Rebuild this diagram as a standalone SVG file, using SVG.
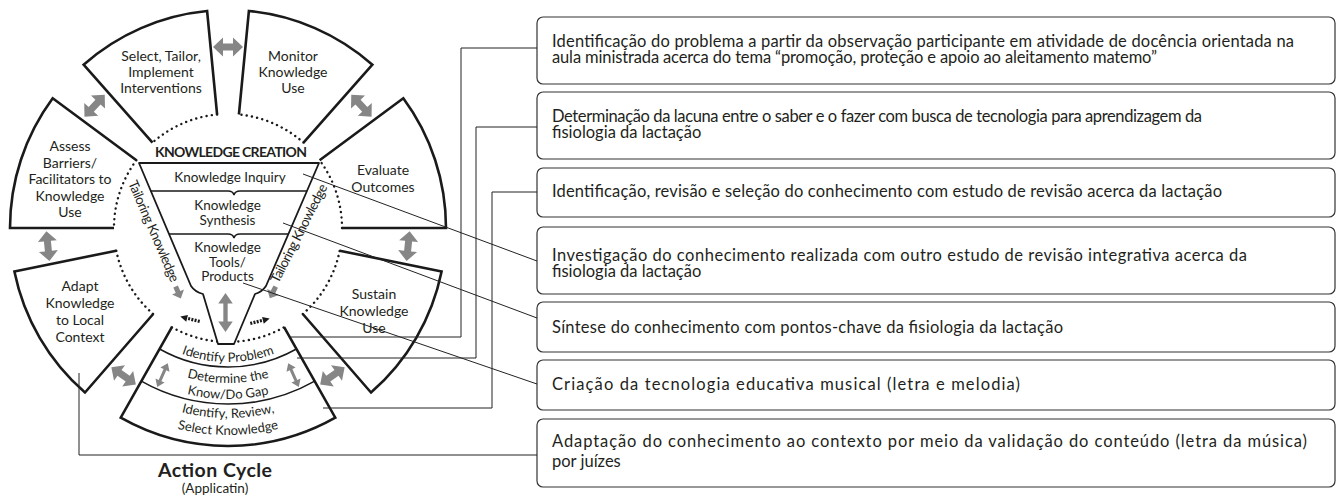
<svg xmlns="http://www.w3.org/2000/svg" width="1340" height="503" viewBox="0 0 1340 503">
<style>
.lbl{font-family:Lato,"Noto Sans","Liberation Sans",sans-serif;font-size:14px;fill:#231f20;text-anchor:middle}
.fl{font-family:Lato,"Noto Sans","Liberation Sans",sans-serif;font-size:13.5px;fill:#231f20;text-anchor:middle}
.bnd{font-family:Lato,"Noto Sans","Liberation Sans",sans-serif;font-size:13px;fill:#231f20;text-anchor:middle}
.bt{font-family:Lato,"Noto Sans","Liberation Sans",sans-serif;font-size:16.5px;fill:#231f20}
.box{fill:#fff;stroke:#333;stroke-width:1.2}
.sec{fill:none;stroke:#1a1a1a;stroke-width:2.6;stroke-linejoin:miter}
.dot{fill:none;stroke:#1a1a1a;stroke-width:2.4;stroke-dasharray:0.1 5.2;stroke-linecap:round}
.div{fill:none;stroke:#1a1a1a;stroke-width:1.5}
.conn{fill:none;stroke:#222;stroke-width:1}
.ga{fill:#868686}
</style>
<defs>
<path id="dbl" d="M-15,0 L-5,-9.5 L-5,-3.5 L5,-3.5 L5,-9.5 L15,0 L5,9.5 L5,3.5 L-5,3.5 L-5,9.5 Z"/>
<path id="sdbl" d="M0,-13 L5,-6 L1.5,-6 L1.5,6 L5,6 L0,13 L-5,6 L-1.5,6 L-1.5,-6 L-5,-6 Z"/>
<path id="sgl" d="M-6,-2.5 L0,-2.5 L0,-6.5 L7,0 L0,6.5 L0,2.5 L-6,2.5 Z"/>
<g id="dash">
<path d="M10,0 L3,-3.5 L3,3.5 Z" fill="#1a1a1a"/>
<line x1="-10" y1="0" x2="3" y2="0" stroke="#1a1a1a" stroke-width="3.2" stroke-dasharray="2 1.3"/>
</g>
<path id="tp1" d="M111.96,295 A134,134 0 0 0 344.04,295"/>
<path id="tp2" d="M93.77,305.5 A155,155 0 0 0 362.23,305.5"/>
<path id="tp3" d="M79.91,313.5 A171,171 0 0 0 376.09,313.5"/>
<path id="tp4" d="M63.46,323 A190,190 0 0 0 392.54,323"/>
<path id="tp5" d="M48.74,331.5 A207,207 0 0 0 407.26,331.5"/>
</defs>
<rect width="1340" height="503" fill="#fff"/>

<g id="select">
<path class="sec" d="M152.5,142.6 L83.6,64.7 A218,218 0 0 1 207.1,11 L217.1,114.5"/>
<path class="dot" d="M217.1,114.5 A114,114 0 0 0 152.5,142.6"/>
<text class="lbl" x="161" y="61">Select, Tailor,</text>
<text class="lbl" x="161" y="77">Implement</text>
<text class="lbl" x="161" y="93">Interventions</text>
</g>
<g id="monitor">
<path class="sec" d="M238.9,114.5 L248.9,11 A218,218 0 0 1 372.4,64.7 L303.5,142.6"/>
<path class="dot" d="M303.5,142.6 A114,114 0 0 0 238.9,114.5"/>
<text class="lbl" x="293" y="61">Monitor</text>
<text class="lbl" x="293" y="77">Knowledge</text>
<text class="lbl" x="293" y="93">Use</text>
</g>
<g id="evaluate">
<path class="sec" d="M319.6,160.2 L403.3,98.3 A218,218 0 0 1 446,228 L342,228"/>
<path class="dot" d="M342,228 A114,114 0 0 0 319.6,160.2"/>
<text class="lbl" x="383" y="174.5">Evaluate</text>
<text class="lbl" x="383" y="191.5">Outcomes</text>
</g>
<g id="sustain">
<path class="sec" d="M339.7,250.7 L441.6,271.5 A218,218 0 0 1 371,392.5 L302.8,314"/>
<path class="dot" d="M302.8,314 A114,114 0 0 0 339.7,250.7"/>
<text class="lbl" x="374" y="299">Sustain</text>
<text class="lbl" x="374" y="316">Knowledge</text>
<text class="lbl" x="374" y="333">Use</text>
</g>
<g id="bottom">
<path class="sec" d="M284.1,327.2 L335.3,417.7 A218,218 0 0 1 120.7,417.7 L171.9,327.2"/>
<path class="dot" d="M171.9,327.2 A114,114 0 0 0 284.1,327.2"/>
<path class="div" d="M159.6,349 A139,139 0 0 0 296.4,349"/>
<path class="div" d="M141.3,381.2 A176,176 0 0 0 314.7,381.2"/>
<text class="bnd"><textPath href="#tp1" startOffset="50%">Identify Problem</textPath></text>
<text class="bnd"><textPath href="#tp2" startOffset="50%">Determine the</textPath></text>
<text class="bnd"><textPath href="#tp3" startOffset="50%">Know/Do Gap</textPath></text>
<text class="bnd"><textPath href="#tp4" startOffset="50%">Identify, Review,</textPath></text>
<text class="bnd"><textPath href="#tp5" startOffset="50%">Select Knowledge</textPath></text>
<use href="#sdbl" class="ga" transform="translate(162.5,375.1) rotate(204)"/>
<use href="#sdbl" class="ga" transform="translate(293.5,375.1) rotate(156)"/>
</g>
<g id="adapt">
<path class="sec" d="M153.2,314 L85,392.5 A218,218 0 0 1 14.4,271.5 L116.3,250.7"/>
<path class="dot" d="M116.3,250.7 A114,114 0 0 0 153.2,314"/>
<text class="lbl" x="80" y="291">Adapt</text>
<text class="lbl" x="80" y="308">Knowledge</text>
<text class="lbl" x="80" y="325">to Local</text>
<text class="lbl" x="80" y="341.5">Context</text>
</g>
<g id="assess">
<path class="sec" d="M114,228 L10,228 A218,218 0 0 1 52.7,98.3 L136.4,160.2"/>
<path class="dot" d="M136.4,160.2 A114,114 0 0 0 114,228"/>
<text class="lbl" x="70" y="151">Assess</text>
<text class="lbl" x="70" y="167.5">Barriers/</text>
<text class="lbl" x="70" y="184">Facilitators to</text>
<text class="lbl" x="70" y="200.5">Knowledge</text>
<text class="lbl" x="70" y="217">Use</text>
</g>

<g id="knowledge-creation">
<text x="231" y="157" text-anchor="middle" font-family="Lato,'Noto Sans','Liberation Sans',sans-serif" font-weight="bold" font-size="14" fill="#231f20" textLength="152">KNOWLEDGE CREATION</text>
<path d="M139,163 L319,163 L266,286 Q262,292 255,294 L234,344 L218,344 L203,294 Q195,292 191,286 Z" fill="#fff" stroke="#1a1a1a" stroke-width="1.8" stroke-linejoin="round"/>
<path class="div" d="M150.8,191 L228,191 Q233,191 234,195 Q235,191 240,191 L306.9,191"/>
<path class="div" d="M169,234 L228,234 Q233,234 234,238 Q235,234 240,234 L288.4,234"/>
<text class="fl" x="230" y="182">Knowledge Inquiry</text>
<text class="fl" x="227.5" y="210">Knowledge</text>
<text class="fl" x="227.5" y="225">Synthesis</text>
<text class="fl" x="227.5" y="252">Knowledge</text>
<text class="fl" x="227.5" y="266.5">Tools/</text>
<text class="fl" x="227.5" y="281">Products</text>
<use href="#sdbl" class="ga" transform="translate(225.5,312.5) scale(1.45,1.5)"/>
<text class="fl" textLength="109" transform="translate(149.5,233) rotate(66.7)">Tailoring Knowledge</text>
<text class="fl" textLength="109" transform="translate(303,235.5) rotate(-63)">Tailoring Knowledge</text>
<use href="#sgl" class="ga" transform="translate(178,292) rotate(66.7)"/>
<use href="#sgl" class="ga" transform="translate(273,292) rotate(117)"/>
<use href="#dash" transform="translate(190,319) rotate(194)"/>
<use href="#dash" transform="translate(260,321) rotate(-14)"/>
</g>

<g id="cycle-arrows">
<use href="#dbl" class="ga" transform="translate(228,47) rotate(0)"/>
<use href="#dbl" class="ga" transform="translate(361.4,105.7) rotate(47.5)"/>
<use href="#dbl" class="ga" transform="translate(408.1,246.1) rotate(95.75)"/>
<use href="#dbl" class="ga" transform="translate(332.4,375.8) rotate(144.75)"/>
<use href="#dbl" class="ga" transform="translate(123.6,375.8) rotate(215.25)"/>
<use href="#dbl" class="ga" transform="translate(47.9,246.1) rotate(264.25)"/>
<use href="#dbl" class="ga" transform="translate(94.6,105.7) rotate(312.5)"/>
</g>

<g id="action-cycle-label">
<text x="215" y="477" text-anchor="middle" font-family="Lato,'Noto Sans','Liberation Sans',sans-serif" font-weight="bold" font-size="19.5" fill="#231f20" textLength="114">Action Cycle</text>
<text x="215" y="493" text-anchor="middle" font-family="Lato,'Noto Sans','Liberation Sans',sans-serif" font-size="13.5" fill="#231f20">(Applicatin)</text>
</g>

<g id="box1"><rect class="box" x="537" y="17" width="798" height="67" rx="6"/>
<text class="bt" x="552" y="47" textLength="742">Identificação do problema a partir da observação participante em atividade de docência orientada na</text>
<text class="bt" x="552" y="63" textLength="605">aula ministrada acerca do tema “promoção, proteção e apoio ao aleitamento matemo”</text></g>
<g id="box2"><rect class="box" x="537" y="92" width="798" height="67" rx="6"/>
<text class="bt" x="552" y="122" textLength="650">Determinação da lacuna entre o saber e o fazer com busca de tecnologia para aprendizagem da</text>
<text class="bt" x="552" y="138">fisiologia da lactação</text></g>
<g id="box3"><rect class="box" x="537" y="168" width="798" height="49" rx="6"/>
<text class="bt" x="552" y="197" textLength="670">Identificação, revisão e seleção do conhecimento com estudo de revisão acerca da lactação</text></g>
<g id="box4"><rect class="box" x="537" y="227" width="798" height="67" rx="6"/>
<text class="bt" x="552" y="261" textLength="695">Investigação do conhecimento realizada com outro estudo de revisão integrativa acerca da</text>
<text class="bt" x="552" y="277">fisiologia da lactação</text></g>
<g id="box5"><rect class="box" x="537" y="302" width="798" height="50" rx="6"/>
<text class="bt" x="552" y="333" textLength="511">Síntese do conhecimento com pontos-chave da fisiologia da lactação</text></g>
<g id="box6"><rect class="box" x="537" y="360" width="798" height="50" rx="6"/>
<text class="bt" x="552" y="390" textLength="468">Criação da tecnologia educativa musical (letra e melodia)</text></g>
<g id="box7"><rect class="box" x="537" y="419" width="798" height="68" rx="6"/>
<text class="bt" x="552" y="447" textLength="755">Adaptação do conhecimento ao contexto por meio da validação do conteúdo (letra da música)</text>
<text class="bt" x="552" y="467">por juízes</text></g>

<g id="connectors">
<polyline class="conn" points="291,337 461,337 461,48 537,48"/>
<polyline class="conn" points="297,358 476,358 476,127 537,127"/>
<polyline class="conn" points="323,408 492,408 492,192 537,192"/>
<line class="conn" x1="303" y1="174" x2="537" y2="261"/>
<line class="conn" x1="283" y1="223" x2="537" y2="318"/>
<line class="conn" x1="243" y1="283" x2="537" y2="384"/>
<polyline class="conn" points="79,373 79,455 537,455"/>
</g>
</svg>
